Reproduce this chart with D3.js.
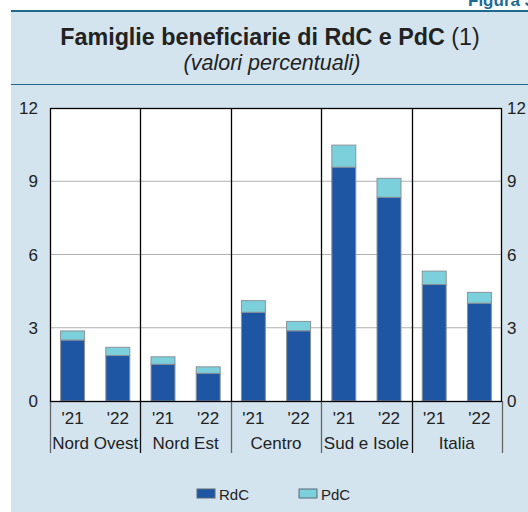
<!DOCTYPE html>
<html lang="it">
<head>
<meta charset="UTF-8">
<title>Famiglie beneficiarie di RdC e PdC</title>
<script src="https://cdn.jsdelivr.net/npm/d3@7/dist/d3.min.js"></script>
<style>
  body { margin: 0; background: #fff; }
  svg { display: block; font-family: "Liberation Sans", Arial, sans-serif; }
  .grid line { stroke: #b0b0b0; stroke-width: 1; }
  .tick-label { font-size: 17px; fill: #222; }
  .cat-label { font-size: 17px; fill: #222; }
  .bar { stroke: #8a9399; stroke-width: 1; }
</style>
</head>
<body>
<svg width="528" height="512"></svg>
<script>
  // data
  var regions = ['Nord Ovest', 'Nord Est', 'Centro', 'Sud e Isole', 'Italia'];
  var years = ["'21", "'22"];
  var rdc = [2.49, 1.86, 1.50, 1.13, 3.63, 2.87, 9.57, 8.34, 4.77, 4.00];
  var pdc = [0.38, 0.34, 0.31, 0.27, 0.48, 0.39, 0.91, 0.78, 0.55, 0.45];
  var yTicks = [0, 3, 6, 9, 12];
  var seriesNames = ['RdC', 'PdC'];
  var seriesColors = ['#1f56a3', '#7bd0dc'];

  var svg = d3.select('svg'),
      W = 528, H = 512,
      plotL = 50, plotR = 502, plotT = 108, plotB = 401;

  // panel background
  svg.append('rect').attr('x', 11).attr('y', 11).attr('width', W - 11).attr('height', H - 11)
      .attr('fill', '#d3e4ee');
  svg.append('line').attr('x1', 11).attr('x2', W).attr('y1', 11).attr('y2', 11)
      .attr('stroke', '#1d6a8e').attr('stroke-width', 2);
  svg.append('line').attr('x1', 11).attr('x2', W).attr('y1', 84.5).attr('y2', 84.5)
      .attr('stroke', '#1d6a8e').attr('stroke-width', 1.2);

  // figure number, cut at the top edge as in the original page
  svg.append('text').attr('x', 468).attr('y', 6)
      .attr('font-size', 17).attr('font-weight', 'bold').attr('fill', '#1d6a96')
      .text('Figura 3.');

  var title = svg.append('text').attr('x', 270).attr('y', 44.5).attr('text-anchor', 'middle')
      .attr('font-size', 23.3).attr('fill', '#222');
  title.append('tspan').attr('font-weight', 'bold').text('Famiglie beneficiarie di RdC e PdC ');
  title.append('tspan').text('(1)');
  svg.append('text').attr('x', 272).attr('y', 69.5).attr('text-anchor', 'middle')
      .attr('font-size', 21.5).attr('font-style', 'italic').attr('fill', '#222')
      .text('(valori percentuali)');

  // scales
  var y = d3.scaleLinear().domain([0, 12]).range([plotB, plotT]);
  var xGroup = d3.scaleBand().domain(regions).range([plotL, plotR]);
  var xYear = d3.scaleBand().domain(years).range([0, xGroup.bandwidth()]).paddingInner(0.47).paddingOuter(0.235);

  svg.append('rect').attr('x', plotL).attr('y', plotT).attr('width', plotR - plotL).attr('height', plotB - plotT)
      .attr('fill', '#fff');

  svg.append('g').attr('class', 'grid').selectAll('line')
      .data(yTicks.filter(function(d) { return d > 0 && d < 12; }))
      .enter().append('line')
      .attr('x1', plotL).attr('x2', plotR)
      .attr('y1', function(d) { return y(d); }).attr('y2', function(d) { return y(d); });

  // bars
  var items = [];
  regions.forEach(function(r, i) {
    years.forEach(function(yr, j) {
      var k = i * 2 + j;
      items.push({ region: r, year: yr, rdc: rdc[k], pdc: pdc[k] });
    });
  });

  var bars = svg.append('g').selectAll('g').data(items).enter().append('g')
      .attr('transform', function(d) { return 'translate(' + (xGroup(d.region) + xYear(d.year)) + ',0)'; });
  bars.append('rect').attr('class', 'bar')
      .attr('x', 0).attr('width', xYear.bandwidth())
      .attr('y', function(d) { return y(d.rdc + d.pdc); })
      .attr('height', function(d) { return y(d.rdc) - y(d.rdc + d.pdc); })
      .attr('fill', seriesColors[1]);
  bars.append('rect').attr('class', 'bar')
      .attr('x', 0).attr('width', xYear.bandwidth())
      .attr('y', function(d) { return y(d.rdc); })
      .attr('height', function(d) { return y(0) - y(d.rdc); })
      .attr('fill', seriesColors[0]);

  // separators inside plot
  svg.append('g').selectAll('line').data(regions.slice(1)).enter().append('line')
      .attr('x1', function(d) { return Math.round(xGroup(d)) + 0.5; })
      .attr('x2', function(d) { return Math.round(xGroup(d)) + 0.5; })
      .attr('y1', plotT).attr('y2', plotB)
      .attr('stroke', '#000').attr('stroke-width', 1.3);

  // separators below axis
  svg.append('g').selectAll('line').data(regions.concat(['end'])).enter().append('line')
      .attr('x1', function(d, i) { return Math.round(i < regions.length ? xGroup(d) : plotR) + 0.5; })
      .attr('x2', function(d, i) { return Math.round(i < regions.length ? xGroup(d) : plotR) + 0.5; })
      .attr('y1', plotB).attr('y2', 453)
      .attr('stroke', function(d, i) { return (i === 1 || i === 4) ? '#111' : '#666'; })
      .attr('stroke-width', 1.3);

  svg.append('rect').attr('x', plotL + 0.5).attr('y', plotT + 0.5)
      .attr('width', plotR - plotL - 1).attr('height', plotB - plotT)
      .attr('fill', 'none').attr('stroke', '#000').attr('stroke-width', 1.3);

  // y axis labels both sides
  svg.append('g').selectAll('text').data(yTicks).enter().append('text')
      .attr('class', 'tick-label').attr('x', 38).attr('text-anchor', 'end')
      .attr('y', function(d) { return y(d) + 6; })
      .text(function(d) { return d; });
  svg.append('g').selectAll('text').data(yTicks).enter().append('text')
      .attr('class', 'tick-label').attr('x', 507)
      .attr('y', function(d) { return y(d) + 6; })
      .text(function(d) { return d; });

  // category labels
  svg.append('g').selectAll('text').data(items).enter().append('text')
      .attr('class', 'cat-label').attr('text-anchor', 'middle')
      .attr('x', function(d) { return xGroup(d.region) + xYear(d.year) + xYear.bandwidth() / 2; })
      .attr('y', 424)
      .text(function(d) { return d.year; });
  svg.append('g').selectAll('text').data(regions).enter().append('text')
      .attr('class', 'cat-label').attr('text-anchor', 'middle')
      .attr('x', function(d) { return xGroup(d) + xGroup.bandwidth() / 2; })
      .attr('y', 449)
      .text(function(d) { return d; });

  // legend
  var legX = [197, 299];
  var leg = svg.append('g').selectAll('g').data(seriesNames).enter().append('g')
      .attr('transform', function(d, i) { return 'translate(' + legX[i] + ',489)'; });
  leg.append('rect').attr('width', 18).attr('height', 9)
      .attr('fill', function(d, i) { return seriesColors[i]; })
      .attr('stroke', '#5b6b75').attr('stroke-width', 1);
  leg.append('text').attr('x', 22).attr('y', 10.5).attr('font-size', 15).attr('fill', '#222')
      .text(function(d) { return d; });
</script>
</body>
</html>
